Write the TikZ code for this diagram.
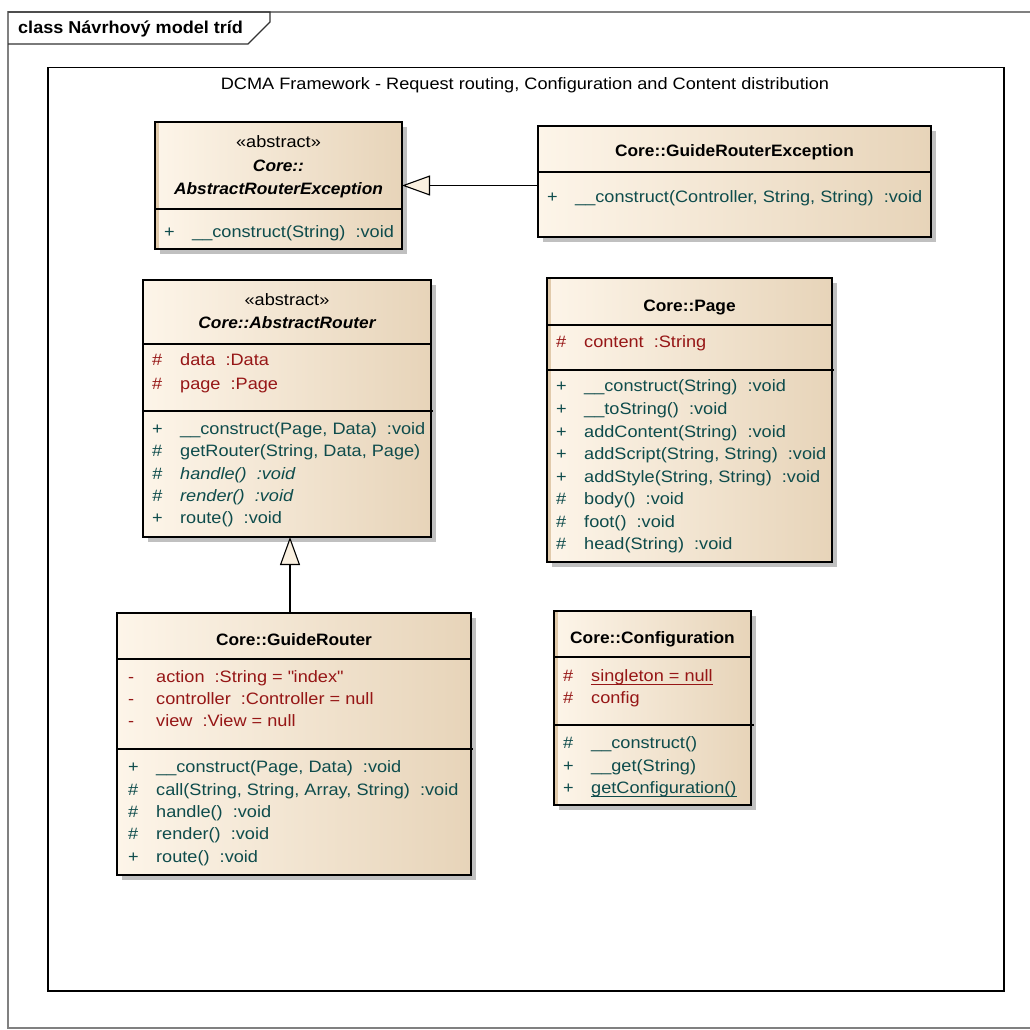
\documentclass[tikz,border=0pt]{standalone}
\usepackage{fontspec}
\setmainfont{Liberation Sans}[FakeStretch=1.1]
\newfontfamily\headfont{Liberation Sans}[FakeStretch=1.05]
\usetikzlibrary{arrows.meta,shadows}

\definecolor{attrred}{RGB}{150,22,22}
\definecolor{opteal}{RGB}{14,76,76}
\definecolor{boxlight}{RGB}{253,245,233}
\definecolor{boxdark}{RGB}{231,212,185}
\definecolor{boxstrip}{RGB}{225,203,172}
\definecolor{shadowgrey}{RGB}{192,192,192}
\definecolor{framegrey}{RGB}{128,128,128}
\definecolor{tipfill}{RGB}{250,240,224}

\tikzset{
  classbox/.style={draw=black, line width=1.3pt, left color=boxlight, right color=boxdark,
    anchor=north west, inner sep=0pt, outer sep=0pt,
    drop shadow={shadow xshift=5pt, shadow yshift=-5pt, fill=shadowgrey, opacity=1}},
  sepline/.style={line width=1.1pt},
  txt/.style={inner sep=0pt, font=\fontsize{16.5}{19}\selectfont},
  ctitle/.style={txt, anchor=base, font=\fontsize{16.5}{19}\selectfont\headfont\bfseries},
  cabstract/.style={txt, anchor=base, font=\fontsize{16.5}{19}\selectfont\headfont\bfseries\itshape},
  stereo/.style={txt, anchor=base},
  attr/.style={txt, anchor=base west, text=attrred},
  oper/.style={txt, anchor=base west, text=opteal},
  operit/.style={oper, font=\fontsize{16.5}{19}\selectfont\itshape},
  gen/.style={line width=1.2pt, -{Triangle[length=28pt, width=20pt, fill=tipfill, line width=1.1pt]}},
}

% one member row: visibility marker and signature
\newcommand\mrow[6]{%
  \node[#1] (#2v) at ({#3+9},#4) {#5};
  \node[#1] (#2t) at ({#3+37},#4) {#6};}

\begin{document}
\begin{tikzpicture}[x=1pt,y=-1pt]
\useasboundingbox (0,0) rectangle (1030,1030);
\fill[white] (0,0) rectangle (1030,1030);

% diagram frame and its name tab
\draw[framegrey, line width=1.5pt] (1040,12) -- (8,12) -- (8,1028) -- (1040,1028);
\draw[black!80, line width=1.1pt] (8,12) -- (270,12) -- (270,22) -- (248,44) -- (8,44);
\node[txt, anchor=base west, font=\fontsize{17.2}{19}\selectfont\headfont\bfseries] (dtitle) at (18,34) {class Návrhový model tríd};

% package boundary
\node[draw=black, line width=1.5pt, anchor=north west, minimum width=956pt, minimum height=923pt, inner sep=0pt] (bound) at (47,67) {};
\node[stereo] (btitle) at (525,90) {DCMA Framework - Request routing, Configuration and Content distribution};

% Core::AbstractRouterException
\node[classbox, minimum width=247pt, minimum height=127pt] (are) at (155,122) {};
\fill[boxstrip] (155.7,122.7) rectangle (159,248.3);
\draw[sepline] (155,209) -- (402,209);
\node[stereo] (ares) at (278.5,147) {«abstract»};
\node[cabstract] (aren1) at (278.5,171) {Core::};
\node[cabstract] (aren2) at (278.5,194) {AbstractRouterException};
\mrow{oper}{arem1}{155}{237}{+}{\_\_construct(String)\ \ :void}

% Core::GuideRouterException
\node[classbox, minimum width=393pt, minimum height=111pt] (gre) at (538,126) {};
\draw[sepline] (538,172) -- (931,172);
\node[ctitle] (gren) at (734.5,157) {Core::GuideRouterException};
\mrow{oper}{grem1}{538}{202}{+}{\_\_construct(Controller, String, String)\ \ :void}

% Core::AbstractRouter
\node[classbox, minimum width=288pt, minimum height=257pt] (ar) at (143,280) {};
\draw[sepline] (143,344) -- (431,344);
\draw[sepline] (143,411) -- (433,411);
\node[stereo] (ars) at (287,305) {«abstract»};
\node[cabstract] (arn) at (287,328) {Core::AbstractRouter};
\mrow{attr}{ara1}{143}{365}{\#}{data\ \ :Data}
\mrow{attr}{ara2}{143}{389}{\#}{page\ \ :Page}
\mrow{oper}{arm1}{143}{434}{+}{\_\_construct(Page, Data)\ \ :void}
\mrow{oper}{arm2}{143}{456}{\#}{getRouter(String, Data, Page)}
\mrow{operit}{arm3}{143}{479}{\#}{handle()\ \ :void}
\mrow{operit}{arm4}{143}{501}{\#}{render()\ \ :void}
\mrow{oper}{arm5}{143}{523}{+}{route()\ \ :void}

% Core::Page
\node[classbox, minimum width=285pt, minimum height=284pt] (pg) at (547,278) {};
\fill[boxstrip] (547.7,278.7) rectangle (551,561.3);
\draw[sepline] (547,325) -- (832,325);
\draw[sepline] (547,370) -- (834,370);
\node[ctitle] (pgn) at (689.5,311) {Core::Page};
\mrow{attr}{pga1}{547}{347}{\#}{content\ \ :String}
\mrow{oper}{pgm1}{547}{391}{+}{\_\_construct(String)\ \ :void}
\mrow{oper}{pgm2}{547}{414}{+}{\_\_toString()\ \ :void}
\mrow{oper}{pgm3}{547}{437}{+}{addContent(String)\ \ :void}
\mrow{oper}{pgm4}{547}{459}{+}{addScript(String, String)\ \ :void}
\mrow{oper}{pgm5}{547}{482}{+}{addStyle(String, String)\ \ :void}
\mrow{oper}{pgm6}{547}{504}{\#}{body()\ \ :void}
\mrow{oper}{pgm7}{547}{527}{\#}{foot()\ \ :void}
\mrow{oper}{pgm8}{547}{549}{\#}{head(String)\ \ :void}

% Core::GuideRouter
\node[classbox, minimum width=354pt, minimum height=262pt] (gr) at (117,613) {};
\draw[sepline] (117,659) -- (471,659);
\draw[sepline] (117,749) -- (473,749);
\node[ctitle] (grn) at (294,645) {Core::GuideRouter};
\mrow{attr}{gra1}{119}{682}{-}{action\ \ :String = \textquotedbl index\textquotedbl}
\mrow{attr}{gra2}{119}{704}{-}{controller\ \ :Controller = null}
\mrow{attr}{gra3}{119}{726}{-}{view\ \ :View = null}
\mrow{oper}{grm1}{119}{772}{+}{\_\_construct(Page, Data)\ \ :void}
\mrow{oper}{grm2}{119}{795}{\#}{call(String, String, Array, String)\ \ :void}
\mrow{oper}{grm3}{119}{817}{\#}{handle()\ \ :void}
\mrow{oper}{grm4}{119}{839}{\#}{render()\ \ :void}
\mrow{oper}{grm5}{119}{862}{+}{route()\ \ :void}

% Core::Configuration
\node[classbox, minimum width=197pt, minimum height=194pt] (cf) at (554,611) {};
\fill[boxstrip] (554.7,611.7) rectangle (558,804.3);
\draw[sepline] (554,657) -- (751,657);
\draw[sepline] (554,725) -- (754,725);
\node[ctitle] (cfn) at (652.5,643) {Core::Configuration};
\mrow{attr}{cfa1}{554}{681}{\#}{singleton = null}
\draw[attrred, line width=1pt] ([yshift=-3.5pt]cfa1t.base west) -- ([yshift=-3.5pt]cfa1t.base east);
\mrow{attr}{cfa2}{554}{703}{\#}{config}
\mrow{oper}{cfm1}{554}{748}{\#}{\_\_construct()}
\mrow{oper}{cfm2}{554}{771}{+}{\_\_get(String)}
\mrow{oper}{cfm3}{554}{793}{+}{getConfiguration()}
\draw[opteal, line width=1pt] ([yshift=-3.5pt]cfm3t.base west) -- ([yshift=-3.5pt]cfm3t.base east);

% generalisations
\draw[gen] (gre.west |- are.east) -- (are.east);
\draw[gen] ([xshift=-4pt]gr.north) -- ([xshift=3pt]ar.south);
\end{tikzpicture}
\end{document}
